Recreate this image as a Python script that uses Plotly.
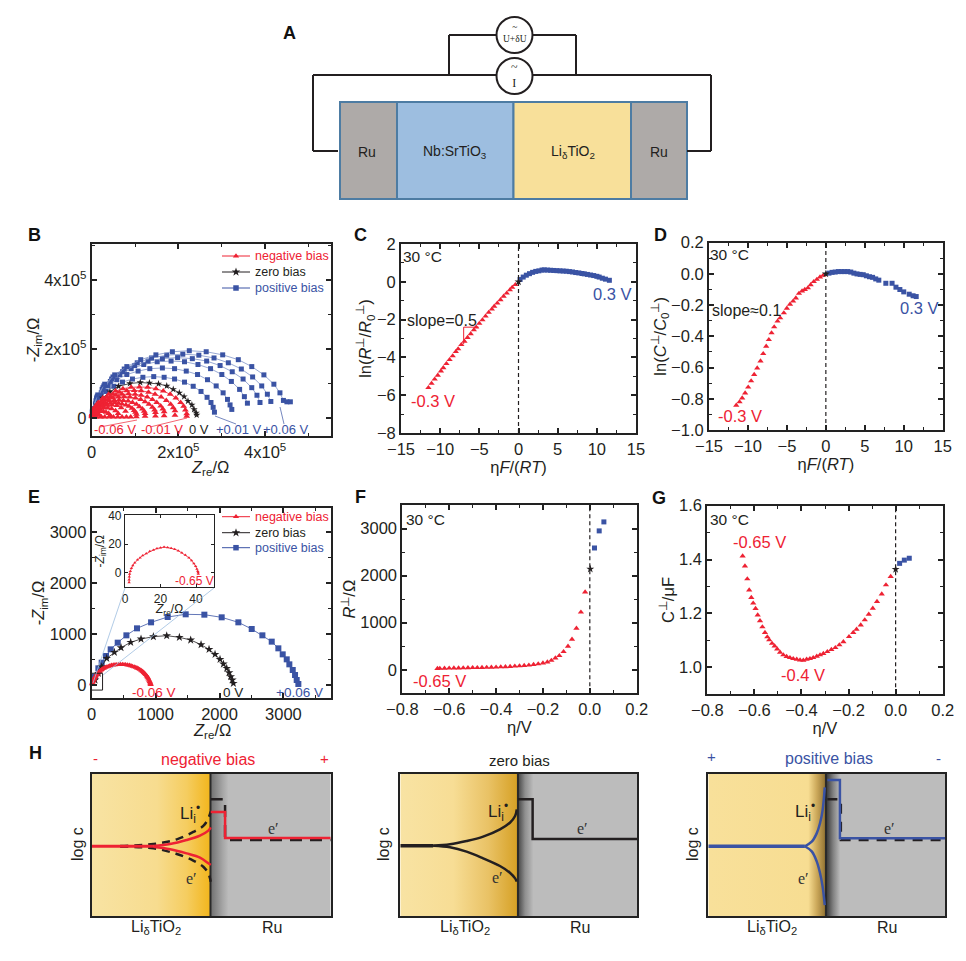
import plotly.graph_objects as go

W = 966
H = 961

RED = "#ee2233"
BLUE = "#3a53a4"
BLACK = "#231f20"
FONT = "Liberation Sans"

# Panel B, Nyquist arcs (both axes in units of 1e5 ohm)
b_neg_x = [
    [0.011, 0.066, 0.15, 0.26, 0.39, 0.55, 0.72, 0.91, 1.10, 1.29, 1.48, 1.65, 1.81, 1.94, 2.05, 2.12, 2.16, 2.19],
    [0.010, 0.059, 0.13, 0.23, 0.35, 0.49, 0.64, 0.81, 0.98, 1.14, 1.31, 1.46, 1.60, 1.72, 1.82, 1.88, 1.92],
    [0.009, 0.051, 0.11, 0.20, 0.30, 0.43, 0.56, 0.70, 0.85, 1.00, 1.14, 1.28, 1.40, 1.50, 1.59, 1.64, 1.67],
    [0.008, 0.045, 0.10, 0.18, 0.27, 0.38, 0.49, 0.62, 0.75, 0.88, 1.01, 1.13, 1.23, 1.32, 1.40, 1.45, 1.47],
    [0.006, 0.038, 0.084, 0.15, 0.22, 0.31, 0.41, 0.52, 0.63, 0.73, 0.84, 0.94, 1.03, 1.10, 1.17, 1.21, 1.23],
    [0.005, 0.032, 0.07, 0.12, 0.19, 0.26, 0.35, 0.43, 0.53, 0.62, 0.70, 0.79, 0.86, 0.93, 0.98, 1.01, 1.03],
]
b_neg_y = [
    [0.125, 0.31, 0.45, 0.58, 0.69, 0.78, 0.85, 0.89, 0.90, 0.89, 0.85, 0.78, 0.69, 0.58, 0.45, 0.34, 0.23, 0.125],
    [0.11, 0.27, 0.40, 0.51, 0.61, 0.69, 0.75, 0.79, 0.80, 0.79, 0.75, 0.69, 0.61, 0.51, 0.40, 0.30, 0.21],
    [0.10, 0.24, 0.35, 0.45, 0.54, 0.61, 0.66, 0.69, 0.70, 0.69, 0.66, 0.61, 0.54, 0.45, 0.35, 0.26, 0.18],
    [0.09, 0.21, 0.31, 0.40, 0.47, 0.54, 0.58, 0.61, 0.62, 0.61, 0.58, 0.54, 0.47, 0.40, 0.31, 0.23, 0.16],
    [0.07, 0.18, 0.26, 0.33, 0.40, 0.45, 0.49, 0.51, 0.52, 0.51, 0.49, 0.45, 0.40, 0.33, 0.26, 0.20, 0.13],
    [0.06, 0.15, 0.22, 0.28, 0.34, 0.38, 0.41, 0.43, 0.44, 0.43, 0.41, 0.38, 0.34, 0.28, 0.22, 0.17, 0.11],
]
# the solid red mass near the origin and the low frequency ends along the baseline
b_neg_fill_x = [0.02, 0.07, 0.15, 0.25, 0.36, 0.47, 0.58, 0.68, 0.78,
                0.015, 0.05, 0.11, 0.19, 0.28, 0.37, 0.46, 0.55, 0.61,
                0.01, 0.04, 0.08, 0.14, 0.2, 0.27, 0.33, 0.39, 0.43,
                0.01, 0.03, 0.06, 0.1, 0.14, 0.18, 0.22,
                0.1, 0.2, 0.3, 0.4, 0.5, 0.6, 0.7, 0.8, 0.9, 1.03, 1.23, 1.47, 1.67, 1.92, 2.19]
b_neg_fill_y = [0.12, 0.22, 0.29, 0.34, 0.37, 0.38, 0.36, 0.30, 0.20,
                0.10, 0.17, 0.23, 0.27, 0.30, 0.29, 0.27, 0.21, 0.13,
                0.07, 0.12, 0.16, 0.19, 0.2, 0.19, 0.17, 0.13, 0.07,
                0.04, 0.08, 0.11, 0.12, 0.11, 0.08, 0.04,
                0.03, 0.03, 0.03, 0.03, 0.03, 0.03, 0.03, 0.03, 0.03, 0.04, 0.05, 0.06, 0.07, 0.08, 0.05]
b_zero_x = [0.05, 0.12, 0.25, 0.42, 0.62, 0.88, 1.12, 1.33, 1.54, 1.73, 1.88, 2.02, 2.13, 2.22, 2.31, 2.36, 2.41, 2.42]
b_zero_y = [0.15, 0.38, 0.58, 0.76, 0.92, 1.00, 1.03, 1.02, 0.99, 0.93, 0.83, 0.73, 0.62, 0.49, 0.38, 0.25, 0.15, 0.09]
b_pos_x = [
    [0.014, 0.086, 0.19, 0.33, 0.51, 0.71, 0.94, 1.18, 1.43, 1.67, 1.91, 2.14, 2.34, 2.52, 2.66, 2.75, 2.80, 2.83],
    [0.016, 0.098, 0.22, 0.38, 0.58, 0.81, 1.07, 1.34, 1.63, 1.91, 2.18, 2.44, 2.67, 2.87, 3.03, 3.13, 3.19, 3.23],
    [0.018, 0.11, 0.24, 0.43, 0.65, 0.91, 1.20, 1.51, 1.83, 2.14, 2.45, 2.74, 3.00, 3.22, 3.41, 3.52, 3.59],
    [0.020, 0.12, 0.26, 0.46, 0.71, 0.99, 1.30, 1.63, 1.98, 2.32, 2.65, 2.96, 3.24, 3.49, 3.69, 3.81, 3.88],
    [0.021, 0.13, 0.28, 0.49, 0.75, 1.05, 1.38, 1.73, 2.10, 2.47, 2.82, 3.15, 3.45, 3.71, 3.92, 4.05, 4.13],
    [0.023, 0.14, 0.30, 0.53, 0.81, 1.13, 1.48, 1.86, 2.25, 2.64, 3.02, 3.38, 3.69, 3.97, 4.20, 4.34, 4.42, 4.50, 4.58],
]
b_pos_y = [
    [0.17, 0.41, 0.60, 0.77, 0.92, 1.04, 1.13, 1.18, 1.20, 1.18, 1.13, 1.04, 0.92, 0.77, 0.60, 0.45, 0.31, 0.17],
    [0.20, 0.50, 0.73, 0.93, 1.11, 1.26, 1.36, 1.43, 1.45, 1.43, 1.36, 1.26, 1.11, 0.93, 0.73, 0.54, 0.38, 0.25],
    [0.23, 0.56, 0.83, 1.06, 1.26, 1.43, 1.55, 1.63, 1.65, 1.63, 1.55, 1.43, 1.26, 1.06, 0.83, 0.62, 0.43],
    [0.24, 0.60, 0.88, 1.13, 1.34, 1.52, 1.65, 1.72, 1.75, 1.72, 1.65, 1.52, 1.34, 1.13, 0.88, 0.66, 0.45],
    [0.26, 0.63, 0.93, 1.19, 1.42, 1.60, 1.74, 1.82, 1.85, 1.82, 1.74, 1.60, 1.42, 1.19, 0.93, 0.69, 0.48],
    [0.27, 0.67, 0.98, 1.25, 1.49, 1.69, 1.83, 1.92, 1.95, 1.92, 1.83, 1.69, 1.49, 1.25, 0.98, 0.73, 0.51, 0.47, 0.47],
]

# Panel C
c_neg_x = [-11.5, -11.1, -10.7, -10.3, -9.9, -9.6, -9.2, -8.8, -8.4, -8.0, -7.7, -7.3, -6.9, -6.5, -6.1, -5.7, -5.4, -5.0, -4.6, -4.2, -3.8, -3.4, -3.1, -2.7, -2.3, -1.9, -1.5, -1.1, -0.8, -0.4]
c_neg_y = [-5.6, -5.38, -5.15, -4.95, -4.72, -4.55, -4.33, -4.12, -3.92, -3.7, -3.55, -3.33, -3.15, -2.95, -2.75, -2.55, -2.4, -2.2, -2.02, -1.82, -1.62, -1.45, -1.3, -1.13, -0.95, -0.77, -0.6, -0.43, -0.3, -0.15]
c_pos_x = [0.2, 0.6, 1, 1.4, 1.8, 2.2, 2.6, 3, 3.3, 3.7, 4.1, 4.5, 4.9, 5.3, 5.7, 6.1, 6.5, 6.9, 7.3, 7.7, 8.1, 8.4, 8.8, 9.2, 9.6, 10, 10.3, 10.7, 11.1, 11.6]
c_pos_y = [0.12, 0.25, 0.35, 0.43, 0.5, 0.55, 0.58, 0.62, 0.63, 0.62, 0.61, 0.6, 0.59, 0.58, 0.57, 0.56, 0.54, 0.52, 0.49, 0.47, 0.44, 0.42, 0.39, 0.36, 0.33, 0.29, 0.25, 0.19, 0.14, 0.08]

# Panel D
d_neg_x = [-11.5, -11.08, -10.74, -10.36, -9.97, -9.59, -9.2, -8.81, -8.39, -8.04, -7.66, -7.32, -6.97, -6.63, -6.2, -5.86, -5.39, -5.0, -4.6, -4.2, -3.85, -3.45, -3.05, -2.7, -2.3, -1.95, -1.55, -1.15, -0.75, -0.35]
d_neg_y = [-0.842, -0.82, -0.795, -0.763, -0.726, -0.686, -0.645, -0.603, -0.558, -0.511, -0.464, -0.421, -0.378, -0.34, -0.303, -0.282, -0.25, -0.22, -0.195, -0.175, -0.155, -0.125, -0.11, -0.1, -0.09, -0.07, -0.05, -0.035, -0.02, -0.01]
d_pos_x = [0.4, 0.8, 1.2, 1.6, 2.0, 2.4, 2.8, 3.2, 3.6, 4.0, 4.4, 4.8, 5.2, 5.6, 6.0, 6.4, 6.8, 7.7, 8.5, 9.0, 9.5, 10.0, 10.7, 11.2, 11.6]
d_pos_y = [0.005, 0.01, 0.012, 0.015, 0.015, 0.015, 0.015, 0.012, 0.005, 0.0, -0.003, -0.005, -0.012, -0.018, -0.022, -0.032, -0.04, -0.06, -0.06, -0.085, -0.1, -0.115, -0.13, -0.14, -0.145]

# Panel E
e_neg_x = [5, 10, 15, 22, 30, 37, 45, 55, 65, 75, 85, 97, 110, 125, 140, 157, 175, 195, 215, 237, 260, 285, 310, 337, 365, 392, 420, 450, 480, 505, 530, 560, 590, 615, 640, 665, 690, 710, 730, 750, 770, 785, 800, 815, 830, 845, 860, 870, 880, 890, 900, 908, 915, 920, 923]
e_neg_y = [20, 40, 60, 80, 100, 120, 140, 160, 180, 198, 215, 233, 250, 268, 285, 303, 320, 333, 345, 355, 365, 375, 385, 390, 395, 398, 400, 400, 400, 399, 398, 392, 385, 375, 365, 355, 345, 332, 320, 305, 290, 275, 260, 243, 225, 203, 180, 160, 140, 115, 90, 65, 40, 22, 5]
e_zero_x = [52, 104, 156, 235, 355, 459, 610, 772, 965, 1174, 1372, 1549, 1711, 1836, 1930, 2008, 2061, 2113, 2149, 2175, 2201, 2217]
e_zero_y = [98, 229, 359, 523, 641, 732, 837, 902, 948, 967, 935, 882, 791, 699, 601, 503, 412, 327, 242, 163, 98, 33]
e_pos_x = [3234, 3208, 3182, 3146, 3093, 3052, 2989, 2921, 2817, 2671, 2504, 2295, 2034, 1763, 1471, 1189, 929, 709, 543, 407, 297, 224, 156, 104, 52]
e_pos_y = [20, 98, 196, 294, 405, 503, 601, 719, 850, 974, 1098, 1229, 1327, 1379, 1386, 1333, 1229, 1111, 974, 830, 699, 569, 438, 327, 163]
inset_x = [2.3, 2.3, 2.4, 2.6, 3, 3.6, 4.4, 5.5, 7, 8.5, 10, 12, 14, 16, 18, 20, 22, 24, 26, 28, 30, 32, 34, 36, 37.5, 38.8, 39.8, 40.5, 41, 41.2, 41.3]
inset_y = [-7, -5, -3, -1, 1, 3, 5, 7, 9, 10.5, 12, 13.5, 15, 16, 17, 17.5, 18, 17.7, 17.2, 16.5, 15.5, 14, 12.5, 10.5, 8.5, 6.5, 4.5, 2.5, 1, 0, -1]

# Panel F
f_neg_x = [-0.65, -0.64, -0.62, -0.6, -0.58, -0.56, -0.54, -0.52, -0.5, -0.48, -0.46, -0.44, -0.42, -0.4, -0.38, -0.36, -0.34, -0.32, -0.3, -0.28, -0.26, -0.24, -0.22, -0.2, -0.181, -0.164, -0.147, -0.13, -0.112, -0.093, -0.076, -0.057, -0.038, -0.02]
f_neg_y = [25, 29, 31, 33, 35, 37, 39, 41, 43, 45, 47, 50, 53, 56, 60, 64, 68, 75, 82, 90, 98, 110, 125, 142, 163, 199, 249, 298, 384, 497, 647, 881, 1222, 1650]
f_zero_x = [0.002]
f_zero_y = [2140]
f_pos_x = [0.02, 0.04, 0.06]
f_pos_y = [2587, 2950, 3141]

# Panel G
g_neg_x = [-0.65, -0.64, -0.63, -0.622, -0.613, -0.605, -0.595, -0.586, -0.576, -0.566, -0.555, -0.545, -0.537, -0.525, -0.514, -0.503, -0.491, -0.477, -0.463, -0.449, -0.435, -0.42, -0.406, -0.392, -0.378, -0.364, -0.35, -0.335, -0.321, -0.307, -0.29, -0.273, -0.256, -0.239, -0.222, -0.198, -0.18, -0.166, -0.148, -0.131, -0.114, -0.097, -0.079, -0.059, -0.041, -0.021]
g_neg_y = [1.413, 1.376, 1.328, 1.287, 1.259, 1.238, 1.218, 1.194, 1.173, 1.15, 1.129, 1.113, 1.102, 1.089, 1.079, 1.068, 1.056, 1.046, 1.04, 1.036, 1.032, 1.03, 1.027, 1.026, 1.03, 1.032, 1.036, 1.041, 1.046, 1.051, 1.058, 1.066, 1.073, 1.083, 1.095, 1.114, 1.129, 1.141, 1.157, 1.176, 1.197, 1.219, 1.244, 1.272, 1.306, 1.337]
g_zero_x = [0.0]
g_zero_y = [1.364]
g_pos_x = [0.017, 0.037, 0.058]
g_pos_y = [1.386, 1.398, 1.405]

# Panel H, log c profiles on a 0-100 scale across each box
h1_flat_x = [0, 25.8]
h1_flat_y = [49.2, 49.2]
h1_li_x = [25.8, 32.8, 39.7, 45.3, 48.8, 49.8]
h1_li_y = [49.3, 50.7, 53.5, 56.6, 60.1, 62.4]
h1_e_x = [25.8, 32.8, 39.7, 45.3, 48.8, 49.8]
h1_e_y = [48.8, 47, 44.1, 41.1, 37.1, 35.9]
h1_li0_x = [11.9, 25.8, 35.6, 42.5, 46.7, 48.8, 49.8]
h1_li0_y = [49.3, 50.7, 54, 59.2, 63.4, 68.8, 73.5]
h1_e0_x = [11.9, 25.8, 35.6, 42.5, 46.7, 48.8, 49.8]
h1_e0_y = [48.8, 47.7, 43.7, 39, 34.7, 30, 24.2]
h1_step0_x = [49.8, 55.8, 55.8, 100]
h1_step0_y = [82.2, 82.2, 53.5, 53.5]
h1_step_x = [49.8, 55.8, 55.8, 100]
h1_step_y = [73.2, 73.2, 54.9, 54.9]

h2_flat_x = [0, 13.9]
h2_flat_y = [49.5, 49.5]
h2_li_x = [13.9, 21, 28, 35, 42.1, 46.3, 48.5, 49.2]
h2_li_y = [49.5, 50.5, 52.8, 55.9, 61, 65.7, 70.4, 75.1]
h2_e_x = [13.9, 21, 28, 35, 42.1, 46.3, 48.5, 49.2]
h2_e_y = [49.5, 48.4, 45.3, 40.6, 35.2, 30.5, 26.5, 24.2]
h2_step_x = [49.7, 55.9, 55.9, 100]
h2_step_y = [82.2, 82.2, 54.2, 54.2]

h3_flat_x = [0, 40.8]
h3_flat_y = [49.1, 49.1]
h3_li_x = [40.8, 43.7, 45.8, 47.2, 48.3, 49.2]
h3_li_y = [49.1, 52.3, 58.2, 65.3, 74.6, 90.6]
h3_e_x = [40.8, 43.7, 45.8, 47.2, 48.3, 49.2]
h3_e_y = [49.1, 45.5, 38.5, 30.3, 20.7, 7.7]
h3_step0_x = [50.3, 56, 56, 100]
h3_step0_y = [82.2, 82.2, 53.5, 53.5]
h3_step_x = [50.3, 55.6, 55.6, 100]
h3_step_y = [95.8, 95.8, 54.7, 54.7]


def px(x):
    return x / W


def py(y):
    return 1 - y / H


fig = go.Figure()
layout = {}
annotations = []
shapes = []


def add_axes(n, box, xr, yr, xdtick=None, ydtick=None, xminor=None, yminor=None, xtitle=None, ytitle=None,
             xstand=0, ystand=0, size=16.5, hide=False, width=2):
    # box is left, top, right, bottom in picture pixels
    left, top, right, bottom = box
    common = dict(showline=True, linecolor="#222222", linewidth=width, mirror="ticks", showgrid=False, zeroline=False,
                  ticks="inside", ticklen=5, tickwidth=1.5, tickcolor="#222222", automargin=False,
                  tickfont=dict(family=FONT, size=size, color=BLACK), layer="above traces")
    if hide:
        common.update(ticks="", showticklabels=False, mirror=True)
    x = dict(common, domain=[px(left), px(right)], range=xr, anchor=f"y{n}")
    y = dict(common, domain=[py(bottom), py(top)], range=yr, anchor=f"x{n}")
    if xdtick:
        x.update(dtick=xdtick, tick0=0)
    if ydtick:
        y.update(dtick=ydtick, tick0=0)
    if xminor:
        x["minor"] = dict(dtick=xminor, tick0=0, ticks="inside", ticklen=3, tickwidth=1, tickcolor="#222222")
    if yminor:
        y["minor"] = dict(dtick=yminor, tick0=0, ticks="inside", ticklen=3, tickwidth=1, tickcolor="#222222")
    if xtitle:
        x["title"] = dict(text=xtitle, standoff=xstand, font=dict(family=FONT, size=size, color=BLACK))
    if ytitle:
        y["title"] = dict(text=ytitle, standoff=ystand, font=dict(family=FONT, size=size, color=BLACK))
    layout[f"xaxis{n}"] = x
    layout[f"yaxis{n}"] = y


def marks(n, xs, ys, color, symbol, size=5, line=False, line_color=None):
    fig.add_trace(go.Scatter(
        x=xs, y=ys, xaxis=f"x{n}", yaxis=f"y{n}",
        mode="lines+markers" if line else "markers",
        line=dict(color=line_color or color, width=0.8),
        marker=dict(color=color, symbol=symbol, size=size, line=dict(width=0)),
        showlegend=False, hoverinfo="skip", cliponaxis=False,
    ))


def label(x, y, text, color=BLACK, size=15, family=FONT, anchor="center", bold=False, angle=0):
    if bold:
        text = f"<b>{text}</b>"
    annotations.append(dict(x=x, y=y, xref="x11", yref="y11", text=text, showarrow=False, textangle=angle,
                            xanchor=anchor, yanchor="middle", font=dict(family=family, size=size, color=color)))


def line_px(points, color=BLACK, width=2, dash=None):
    for (x0, y0), (x1, y1) in zip(points[:-1], points[1:]):
        shapes.append(dict(type="line", xref="paper", yref="paper", x0=px(x0), y0=py(y0), x1=px(x1), y1=py(y1),
                           line=dict(color=color, width=width, dash=dash or "solid")))


def rect_px(x0, y0, x1, y1, fill, color="#4d7ca3", width=2):
    shapes.append(dict(type="rect", xref="paper", yref="paper", x0=px(x0), y0=py(y0), x1=px(x1), y1=py(y1),
                       fillcolor=fill, line=dict(color=color, width=width), layer="below"))


def circle_px(cx, cy, r):
    shapes.append(dict(type="circle", xref="paper", yref="paper", x0=px(cx - r), y0=py(cy - r), x1=px(cx + r),
                       y1=py(cy + r), fillcolor="white", line=dict(color=BLACK, width=2), layer="above"))


def dash_v(n, y0, y1):
    fig.add_trace(go.Scatter(x=[0, 0], y=[y0, y1], xaxis=f"x{n}", yaxis=f"y{n}", mode="lines", showlegend=False,
                             hoverinfo="skip", line=dict(color=BLACK, width=1.2, dash="4px,3px")))


# ---------- A: cell schematic ----------
rect_px(340, 102, 397, 199, "#aeaaa8")
rect_px(397, 102, 513.5, 199, "#9dbee0")
rect_px(513.5, 102, 631, 199, "#f8e09a")
rect_px(631, 102, 687, 199, "#aeaaa8")
line_px([(338, 151), (313, 151), (313, 75), (711, 75), (711, 151), (687, 151)], width=2)
line_px([(449, 75), (449, 35), (576, 35), (576, 75)], width=2)
circle_px(514.5, 35, 18)
circle_px(514.5, 76, 18)
label(514.5, 33, "~<br>U+δU", size=9.5, family="Liberation Serif")
label(514.5, 75, "~<br>I", size=12, family="Liberation Serif")
label(367, 152, "Ru", size=14)
label(455, 152, "Nb:SrTiO<sub>3</sub>", size=14)
label(573, 152, "Li<sub>δ</sub>TiO<sub>2</sub>", size=14)
label(659, 152, "Ru", size=14)

for letter, x, y in [("A", 289, 33), ("B", 34, 235), ("C", 360, 235), ("D", 660, 235), ("E", 34, 497),
                     ("F", 360, 497), ("G", 659, 498), ("H", 35, 753)]:
    label(x, y, letter, size=18, bold=True, color="#111111")

# ---------- B ----------
add_axes(1, (91.7, 244, 330.7, 436), [0, 5.51], [-0.52, 5.04], xminor=1, yminor=1,
         ytitle="-<i>Z</i><sub>im</sub>/Ω", ystand=0)
layout["xaxis1"].update(tickvals=[0, 2, 4], ticktext=["0", "2x10<sup>5</sup>", "4x10<sup>5</sup>"])
layout["yaxis1"].update(tickvals=[0, 2, 4], ticktext=["0", "2x10<sup>5</sup>", "4x10<sup>5</sup>"])
label(210, 468, "<i>Z</i><sub>re</sub>/Ω", size=16.5)
for xs, ys in zip(b_pos_x, b_pos_y):
    marks(1, xs, ys, BLUE, "square", 5, line=True, line_color="#7f93c8")
marks(1, b_zero_x, b_zero_y, BLACK, "star", 5.5, line=True)
for xs, ys in zip(b_neg_x, b_neg_y):
    marks(1, xs, ys, RED, "triangle-up", 6, line=True)
marks(1, b_neg_fill_x, b_neg_fill_y, RED, "triangle-up", 6)
for text, x, color in [("-0.06 V", 115, RED), ("-0.01 V", 162, RED), ("0 V", 199, BLACK), ("+0.01 V", 239, BLUE),
                       ("+0.06 V", 286, BLUE)]:
    label(x, 429, text, color=color, size=13)
line_px([(100, 427), (137, 420)], color=RED, width=0.7)
line_px([(150, 427), (187, 418)], color=RED, width=0.7)
line_px([(236, 424), (215, 416)], color=BLUE, width=0.7)
line_px([(284, 424), (280, 407)], color=BLUE, width=0.7)

# ---------- C ----------
add_axes(2, (401, 244, 636, 433), [-15, 15], [-8, 2], xdtick=5, ydtick=2, xminor=2.5, yminor=1,
         xtitle="η<i>F</i>/(<i>RT</i>)", ytitle="ln(<i>R</i><sup>⊥</sup>/<i>R</i><sub>0</sub><sup>⊥</sup>)", xstand=0, ystand=0)
marks(2, c_neg_x, c_neg_y, RED, "triangle-up", 5.5)
marks(2, c_pos_x, c_pos_y, BLUE, "square", 5)
marks(2, [0], [0], BLACK, "star", 6)
dash_v(2, -8, 2)
fig.add_trace(go.Scatter(x=[-7, -7, -5.1], y=[-3.3, -2.4, -2.4], xaxis="x2", yaxis="y2", mode="lines", showlegend=False,
                         hoverinfo="skip", line=dict(color=RED, width=1)))
label(422, 256, "30 °C", size=15.5)
label(442, 320, "slope=0.5", size=16)
label(433, 401, "-0.3 V", color=RED, size=16.5)
label(612, 294, "0.3 V", color=BLUE, size=16.5)

# ---------- D ----------
add_axes(3, (709, 242.7, 942.7, 430), [-15, 15], [-1, 0.2], xdtick=5, ydtick=0.2, xminor=2.5, yminor=0.1,
         xtitle="η<i>F</i>/(<i>RT</i>)", ytitle="ln(<i>C</i><sup>⊥</sup>/<i>C</i><sub>0</sub><sup>⊥</sup>)", xstand=0, ystand=0)
layout["yaxis3"]["tickformat"] = ".1f"
marks(3, d_neg_x, d_neg_y, RED, "triangle-up", 5.5)
marks(3, d_pos_x, d_pos_y, BLUE, "square", 5)
marks(3, [0], [0], BLACK, "star", 6)
dash_v(3, -1, 0.2)
label(729, 254, "30 °C", size=15.5)
label(746, 310, "slope≈0.1", size=16)
label(740, 416, "-0.3 V", color=RED, size=16.5)
label(919, 308, "0.3 V", color=BLUE, size=16.5)

# ---------- E ----------
add_axes(4, (91.7, 507.7, 330.7, 698.3), [0, 3740], [-261, 3477], xdtick=1000, ydtick=1000, xminor=500, yminor=500,
         ytitle="-<i>Z</i><sub>im</sub>/Ω", ystand=0)
label(212, 731, "<i>Z</i><sub>re</sub>/Ω", size=16.5)
marks(4, e_pos_x, e_pos_y, BLUE, "square", 6, line=True)
marks(4, e_zero_x, e_zero_y, BLACK, "star", 6.5, line=True)
marks(4, e_neg_x, e_neg_y, RED, "triangle-up", 5.5, line=True)
fig.add_trace(go.Scatter(x=[0, 170, 170, 0], y=[230, 230, -100, -100], xaxis="x4", yaxis="y4", mode="lines",
                         showlegend=False, hoverinfo="skip", line=dict(color=BLACK, width=1)))
line_px([(93, 683), (125, 588)], color="#9dbee0", width=0.8)
line_px([(103, 675), (214, 588)], color="#9dbee0", width=0.8)
label(154, 692, "-0.06 V", color=RED, size=13.5)
label(233, 692, "0 V", size=13.5)
label(299, 692, "+0.06 V", color=BLUE, size=13.5)

add_axes(5, (125, 515, 214.3, 587.3), [0, 50.3], [-10.4, 40.7], xdtick=20, ydtick=20,
         ytitle="-<i>Z</i><sub>im</sub>/Ω", ystand=0, size=12, width=1.2)
layout["xaxis5"].update(ticklen=3, tickwidth=1)
layout["yaxis5"].update(ticklen=3, tickwidth=1)
label(169, 610, "<i>Z</i><sub>re</sub>/Ω", size=12)
marks(5, inset_x, inset_y, RED, "triangle-up", 3, line=True)
label(194, 581, "-0.65 V", color=RED, size=12)

# ---------- F ----------
add_axes(6, (402.3, 505, 636.7, 693.3), [-0.8, 0.2], [-500, 3500], xdtick=0.2, ydtick=1000, xminor=0.1, yminor=500,
         xtitle="η/V", ytitle="<i>R</i><sup>⊥</sup>/Ω", xstand=0, ystand=0)
layout["xaxis6"]["tickformat"] = ".1f"
marks(6, f_neg_x, f_neg_y, RED, "triangle-up", 5.5)
marks(6, f_zero_x, f_zero_y, BLACK, "star", 6)
marks(6, f_pos_x, f_pos_y, BLUE, "square", 5)
dash_v(6, -500, 3500)
label(425, 519, "30 °C", size=15.5)
label(439, 681, "-0.65 V", color=RED, size=16.5)

# ---------- G ----------
add_axes(7, (707.3, 505.7, 942.7, 694.3), [-0.8, 0.2], [0.9, 1.6], xdtick=0.2, ydtick=0.2, xminor=0.1, yminor=0.1,
         xtitle="η/V", ytitle="C<sup>⊥</sup>/μF", xstand=0, ystand=0)
layout["xaxis7"]["tickformat"] = ".1f"
layout["yaxis7"]["tickformat"] = ".1f"
marks(7, g_neg_x, g_neg_y, RED, "triangle-up", 5.5)
marks(7, g_zero_x, g_zero_y, BLACK, "star", 6)
marks(7, g_pos_x, g_pos_y, BLUE, "square", 5)
dash_v(7, 0.9, 1.6)
label(729, 519, "30 °C", size=15.5)
label(759, 542, "-0.65 V", color=RED, size=16.5)
label(803, 675, "-0.4 V", color=RED, size=16.5)


# ---------- legends in B and E ----------
add_axes(11, (0, 0, W, H), [0, W], [H, 0], hide=True)
layout["xaxis11"].update(visible=False)
layout["yaxis11"].update(visible=False)
for rows in ([256, 272, 288], [516.7, 532.7, 547.7]):
    for y, name, color, symbol, size in zip(rows, ["negative bias", "zero bias", "positive bias"], [RED, BLACK, BLUE],
                                            ["triangle-up", "star", "square"], [5.5, 6.5, 5.5]):
        fig.add_trace(go.Scatter(x=[222, 250], y=[y, y], xaxis="x11", yaxis="y11", mode="lines", showlegend=False,
                                 line=dict(color=color, width=1), hoverinfo="skip"))
        fig.add_trace(go.Scatter(x=[236], y=[y], xaxis="x11", yaxis="y11", mode="markers", showlegend=False,
                                 marker=dict(color=color, symbol=symbol, size=size), hoverinfo="skip"))
        label(253, y, name, color=color, size=12.5, anchor="left")


# ---------- H: defect profiles ----------
def h_panel(n, box, left_scale, right_scale, ytitle_x, lab_li, lab_e_left, lab_e_right, lab_bottom):
    add_axes(n, box, [0, 100], [0, 100], hide=True, width=2)
    for x0, x1, scale in [(0, 49.7, left_scale), (49.7, 100, right_scale)]:
        fig.add_trace(go.Scatter(x=[x0, x1, x1, x0, x0], y=[0, 0, 100, 100, 0], xaxis=f"x{n}", yaxis=f"y{n}",
                                 mode="lines", line=dict(width=0), fill="toself",
                                 fillgradient=dict(type="horizontal", colorscale=scale), showlegend=False,
                                 hoverinfo="skip"))
    fig.add_trace(go.Scatter(x=[49.7, 49.7], y=[0, 100], xaxis=f"x{n}", yaxis=f"y{n}", mode="lines", showlegend=False,
                             hoverinfo="skip", line=dict(color="#2a2a2a", width=2)))
    label(ytitle_x, 844, "log c", size=16, angle=-90)
    label(lab_li[0], lab_li[1], "Li<sub>i</sub><sup>•</sup>", size=17)
    label(lab_e_left[0], lab_e_left[1], "e′", size=16, family="Liberation Serif", color="#333333")
    label(lab_e_right[0], lab_e_right[1], "e′", size=16, family="Liberation Serif", color="#333333")
    label(lab_bottom[0], 927, "Li<sub>δ</sub>TiO<sub>2</sub>", size=16)
    label(lab_bottom[1], 927, "Ru", size=16)


def curve(n, xs, ys, color, width=2.5, dash=None, smooth=False):
    fig.add_trace(go.Scatter(x=xs, y=ys, xaxis=f"x{n}", yaxis=f"y{n}", mode="lines", showlegend=False,
                             hoverinfo="skip", line=dict(color=color, width=width, dash=dash or "solid",
                                                         shape="spline" if smooth else "linear")))


GREY = "#bcbcbc"
h_panel(8, (91.7, 774, 330.7, 916),
        [[0, "#f8e3a3"], [0.55, "#f7dc8f"], [0.8, "#f5cd60"], [1, "#f2b51c"]],
        [[0, "#6f6f6f"], [0.1, "#a5a5a5"], [0.15, GREY], [1, GREY]],
        77, (190, 813), (191, 878), (273, 828), (156, 272))
curve(8, h1_li0_x, h1_li0_y, BLACK, 2.5, "8px,6px", True)
curve(8, h1_e0_x, h1_e0_y, BLACK, 2.5, "8px,6px", True)
curve(8, h1_step0_x, h1_step0_y, BLACK, 2.5, "12px,8px")
curve(8, h1_flat_x, h1_flat_y, RED, 3)
curve(8, h1_li_x, h1_li_y, RED, smooth=True)
curve(8, h1_e_x, h1_e_y, RED, smooth=True)
curve(8, h1_step_x, h1_step_y, RED)

h_panel(9, (400.3, 774, 637, 916),
        [[0, "#f8e3a3"], [0.45, "#f7dd95"], [0.75, "#e9c265"], [1, "#d6a024"]],
        [[0, "#444444"], [0.06, "#8f8f8f"], [0.13, GREY], [1, GREY]],
        383, (498, 811), (497, 877), (582, 828), (465, 580))
curve(9, h2_flat_x, h2_flat_y, BLACK, 3.5)
curve(9, h2_li_x, h2_li_y, BLACK, smooth=True)
curve(9, h2_e_x, h2_e_y, BLACK, smooth=True)
curve(9, h2_step_x, h2_step_y, BLACK)

h_panel(10, (708.3, 774, 945, 916),
        [[0, "#f8e09a"], [0.85, "#f7dd92"], [0.92, "#cdaa5c"], [1, "#8f7030"]],
        [[0, "#333333"], [0.06, "#808080"], [0.12, GREY], [1, GREY]],
        692, (805, 811), (803, 878), (889, 828), (772, 887))
curve(10, h3_step0_x, h3_step0_y, BLACK, 2.5, "10px,8px")
curve(10, h3_flat_x, h3_flat_y, BLUE, 3.5)
curve(10, h3_li_x, h3_li_y, BLUE, smooth=True)
curve(10, h3_e_x, h3_e_y, BLUE, smooth=True)
curve(10, h3_step_x, h3_step_y, BLUE)

label(208, 759, "negative bias", color=RED, size=16)
label(95, 758, "-", color=RED, size=15)
label(324, 758, "+", color=RED, size=15)
label(519, 760, "zero bias", size=15)
label(829, 758, "positive bias", color=BLUE, size=16)
label(711, 756, "+", color=BLUE, size=15)
label(938, 758, "-", color=BLUE, size=15)

fig.update_layout(**layout)
fig.update_layout(
    template="none", width=W, height=H, margin=dict(l=0, r=0, t=0, b=0), autosize=False,
    paper_bgcolor="white", plot_bgcolor="rgba(0,0,0,0)",
    showlegend=False, annotations=annotations, shapes=shapes,
    font=dict(family=FONT, color=BLACK),
)
fig.write_html("out.html", config=dict(displayModeBar=False), post_script="document.body.style.margin='0';")
